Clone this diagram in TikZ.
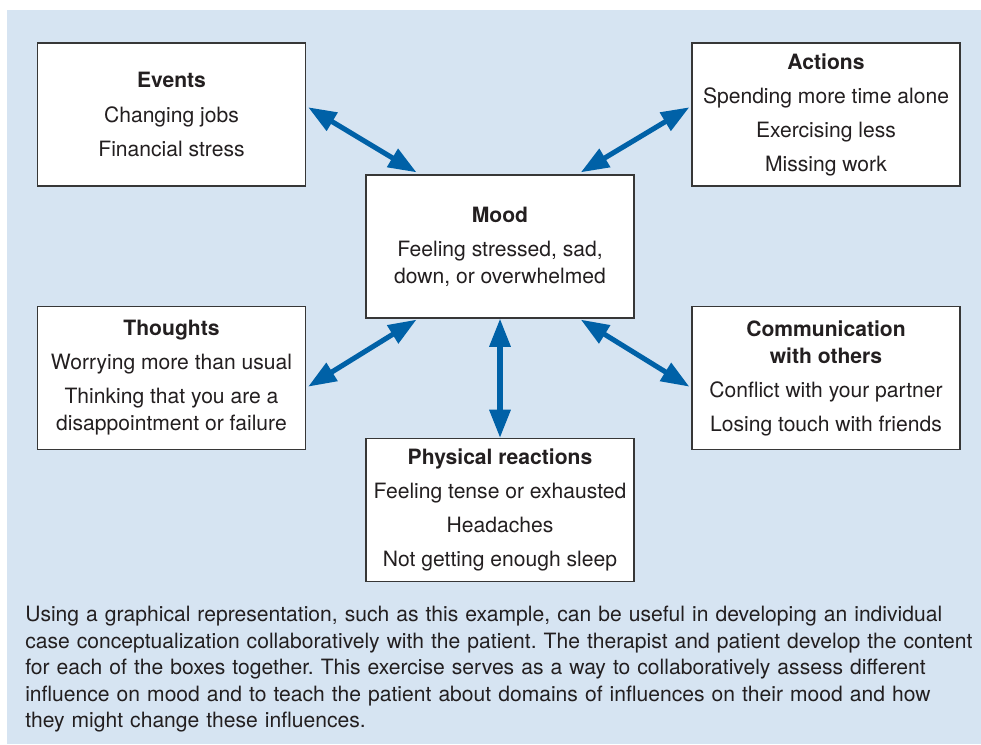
\documentclass[tikz,border=0pt]{standalone}
\usepackage{fontspec}
\setmainfont{TeX Gyre Heros}
\usetikzlibrary{arrows.meta,calc}
\definecolor{panelblue}{RGB}{214,228,242}
\definecolor{arrowblue}{RGB}{0,97,167}
\definecolor{inkgray}{RGB}{35,31,32}
\definecolor{boxline}{RGB}{55,55,55}
\frenchspacing
\begin{document}
\begin{tikzpicture}[x=0.025cm, y=0.025cm, text=inkgray, font=\fontsize{15}{19.2}\selectfont,
  box node/.style={rectangle, draw=boxline, line width=0.9pt, fill=white, minimum width=6.7cm, minimum height=3.575cm, align=center, inner sep=0pt},
  link/.style={draw=arrowblue, fill=arrowblue, line width=3.6pt, {Triangle[length=20pt,width=14.5pt]}-{Triangle[length=20pt,width=14.5pt]}}]
\useasboundingbox (0,0) rectangle (981,744);
\fill[panelblue] (7,0) rectangle (981,734);
\begin{scope}
\node[box node] (events) at (171.5,629.5) {\textbf{Events}\\[5pt]Changing jobs\\[5pt]Financial stress};
\node[box node] (actions) at (826,629.5) {\textbf{Actions}\\[5pt]Spending more time alone\\[5pt]Exercising less\\[5pt]Missing work};
\node[box node] (mood) at (500,497.5) {\textbf{Mood}\\[5pt]Feeling stressed, sad,\\down, or overwhelmed};
\node[box node] (thoughts) at (171.5,366) {\textbf{Thoughts}\\[5pt]Worrying more than usual\\[5pt]Thinking that you are a\\disappointment or failure};
\node[box node] (comm) at (826,366) {\textbf{Communication}\\\textbf{with others}\\[5pt]Conflict with your partner\\[5pt]Losing touch with friends};
\node[box node] (physical) at (500,234) {\textbf{Physical reactions}\\[5pt]Feeling tense or exhausted\\[5pt]Headaches\\[5pt]Not getting enough sleep};
%caption
\node[anchor=base west, text width=24.5cm, align=left, inner sep=0pt, font=\fontsize{15}{18.8}\selectfont] (caption) at (25,122) {Using a graphical representation, such as this example, can be useful in developing an individual\\case conceptualization collaboratively with the patient. The therapist and patient develop the content\\for each of the boxes together. This exercise serves as a way to collaboratively assess different\\influence on mood and to teach the patient about domains of influences on their mood and how\\they might change these influences.};
\end{scope}
\begin{scope}
\draw[link] ($(events.north east)!0.45!(events.south east)+(2,0)$) -- ($(mood.north west)!0.19!(mood.north east)+(0,2)$);
\draw[link] ($(actions.north west)!0.45!(actions.south west)+(-2,0)$) -- ($(mood.north west)!0.8!(mood.north east)+(0,2)$);
\draw[link] ($(thoughts.north east)!0.56!(thoughts.south east)+(2,0)$) -- ($(mood.south west)!0.19!(mood.south east)+(0,-1)$);
\draw[link] ($(comm.north west)!0.56!(comm.south west)+(-2,0)$) -- ($(mood.south west)!0.8!(mood.south east)+(0,-1)$);
\draw[link] (mood.south) -- (physical.north);
\end{scope}
\end{tikzpicture}
\end{document}
